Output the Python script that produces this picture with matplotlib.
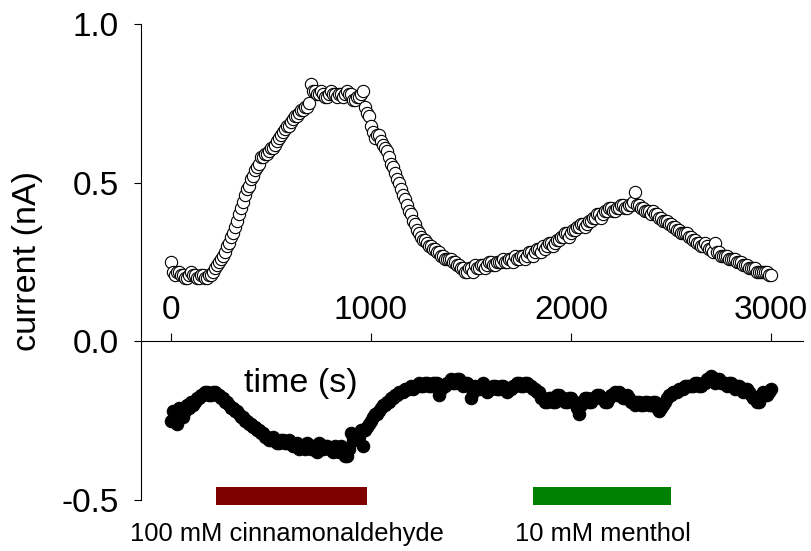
import matplotlib
matplotlib.use("Agg")
import matplotlib.pyplot as plt

plt.rcParams["font.family"] = ["Liberation Sans", "DejaVu Sans"]
plt.rcParams["axes.unicode_minus"] = False

# sampling times (s)
TIME_S = [
    0, 10, 20, 30, 40, 50, 60, 70, 80, 90, 100, 110, 120, 130, 140, 150, 160, 170, 180, 190,
    200, 210, 220, 230, 240, 250, 260, 270, 280, 290, 300, 310, 320, 330, 340, 350, 360, 370, 380, 390,
    400, 410, 420, 430, 440, 450, 460, 470, 480, 490, 500, 510, 520, 530, 540, 550, 560, 570, 580, 590,
    600, 610, 620, 630, 640, 650, 660, 670, 680, 690, 700, 710, 720, 730, 740, 750, 760, 770, 780, 790,
    800, 810, 820, 830, 840, 850, 860, 870, 880, 890, 900, 910, 920, 930, 940, 950, 960, 970, 980, 990,
    1000, 1010, 1020, 1030, 1040, 1050, 1060, 1070, 1080, 1090, 1100, 1110, 1120, 1130, 1140, 1150, 1160, 1170, 1180, 1190,
    1200, 1210, 1220, 1230, 1240, 1250, 1260, 1270, 1280, 1290, 1300, 1310, 1320, 1330, 1340, 1350, 1360, 1370, 1380, 1390,
    1400, 1410, 1420, 1430, 1440, 1450, 1460, 1470, 1480, 1490, 1500, 1510, 1520, 1530, 1540, 1550, 1560, 1570, 1580, 1590,
    1600, 1610, 1620, 1630, 1640, 1650, 1660, 1670, 1680, 1690, 1700, 1710, 1720, 1730, 1740, 1750, 1760, 1770, 1780, 1790,
    1800, 1810, 1820, 1830, 1840, 1850, 1860, 1870, 1880, 1890, 1900, 1910, 1920, 1930, 1940, 1950, 1960, 1970, 1980, 1990,
    2000, 2010, 2020, 2030, 2040, 2050, 2060, 2070, 2080, 2090, 2100, 2110, 2120, 2130, 2140, 2150, 2160, 2170, 2180, 2190,
    2200, 2210, 2220, 2230, 2240, 2250, 2260, 2270, 2280, 2290, 2300, 2310, 2320, 2330, 2340, 2350, 2360, 2370, 2380, 2390,
    2400, 2410, 2420, 2430, 2440, 2450, 2460, 2470, 2480, 2490, 2500, 2510, 2520, 2530, 2540, 2550, 2560, 2570, 2580, 2590,
    2600, 2610, 2620, 2630, 2640, 2650, 2660, 2670, 2680, 2690, 2700, 2710, 2720, 2730, 2740, 2750, 2760, 2770, 2780, 2790,
    2800, 2810, 2820, 2830, 2840, 2850, 2860, 2870, 2880, 2890, 2900, 2910, 2920, 2930, 2940, 2950, 2960, 2970, 2980, 2990,
    3000,
]

# outward current (nA), open circles
OUTWARD = [
    0.25, 0.22, 0.21, 0.22, 0.22, 0.21, 0.21, 0.20, 0.20, 0.21, 0.22, 0.21, 0.21, 0.20, 0.20, 0.21, 0.21, 0.20, 0.20, 0.21,
    0.21, 0.22, 0.23, 0.24, 0.25, 0.26, 0.27, 0.28, 0.30, 0.31, 0.33, 0.34, 0.36, 0.38, 0.40, 0.42, 0.44, 0.46, 0.48, 0.49,
    0.51, 0.52, 0.54, 0.55, 0.56, 0.58, 0.58, 0.59, 0.59, 0.60, 0.61, 0.61, 0.62, 0.63, 0.64, 0.65, 0.66, 0.67, 0.68, 0.68,
    0.69, 0.70, 0.71, 0.71, 0.72, 0.73, 0.73, 0.74, 0.74, 0.75, 0.81, 0.79, 0.79, 0.78, 0.78, 0.79, 0.78, 0.77, 0.77, 0.78,
    0.79, 0.78, 0.78, 0.77, 0.78, 0.78, 0.77, 0.78, 0.79, 0.78, 0.78, 0.76, 0.76, 0.77, 0.77, 0.78, 0.79, 0.74, 0.72, 0.71,
    0.68, 0.66, 0.64, 0.65, 0.65, 0.63, 0.62, 0.61, 0.60, 0.58, 0.56, 0.55, 0.53, 0.51, 0.50, 0.48, 0.46, 0.45, 0.43, 0.41,
    0.40, 0.38, 0.37, 0.35, 0.34, 0.33, 0.32, 0.32, 0.31, 0.30, 0.30, 0.29, 0.29, 0.28, 0.28, 0.27, 0.27, 0.26, 0.26, 0.26,
    0.26, 0.25, 0.25, 0.24, 0.24, 0.23, 0.23, 0.22, 0.22, 0.23, 0.23, 0.22, 0.24, 0.23, 0.23, 0.24, 0.24, 0.23, 0.24, 0.25,
    0.25, 0.24, 0.24, 0.25, 0.25, 0.25, 0.26, 0.25, 0.25, 0.26, 0.26, 0.25, 0.27, 0.26, 0.26, 0.27, 0.27, 0.26, 0.27, 0.28,
    0.28, 0.27, 0.28, 0.29, 0.29, 0.28, 0.30, 0.29, 0.30, 0.31, 0.31, 0.30, 0.31, 0.32, 0.32, 0.33, 0.33, 0.34, 0.34, 0.33,
    0.34, 0.35, 0.35, 0.36, 0.36, 0.37, 0.37, 0.36, 0.37, 0.38, 0.38, 0.39, 0.39, 0.40, 0.40, 0.39, 0.40, 0.41, 0.41, 0.42,
    0.42, 0.41, 0.41, 0.42, 0.42, 0.43, 0.43, 0.42, 0.42, 0.43, 0.43, 0.44, 0.47, 0.43, 0.43, 0.42, 0.42, 0.41, 0.41, 0.41,
    0.40, 0.41, 0.40, 0.40, 0.39, 0.39, 0.38, 0.38, 0.38, 0.37, 0.37, 0.36, 0.36, 0.35, 0.35, 0.34, 0.34, 0.34, 0.34, 0.33,
    0.33, 0.32, 0.32, 0.31, 0.31, 0.30, 0.30, 0.31, 0.30, 0.29, 0.29, 0.28, 0.31, 0.28, 0.28, 0.27, 0.27, 0.27, 0.27, 0.26,
    0.26, 0.26, 0.26, 0.25, 0.25, 0.25, 0.24, 0.24, 0.24, 0.23, 0.23, 0.23, 0.23, 0.22, 0.22, 0.22, 0.22, 0.22, 0.22, 0.21,
    0.21,
]

# inward current (nA), filled circles
INWARD = [
    -0.25, -0.22, -0.24, -0.26, -0.21, -0.23, -0.24, -0.22, -0.20, -0.21, -0.19, -0.20, -0.19, -0.18, -0.18, -0.17, -0.17, -0.16, -0.16, -0.17,
    -0.17, -0.16, -0.16, -0.17, -0.17, -0.18, -0.18, -0.19, -0.19, -0.20, -0.21, -0.21, -0.22, -0.22, -0.23, -0.24, -0.24, -0.25, -0.25, -0.26,
    -0.26, -0.27, -0.27, -0.28, -0.28, -0.29, -0.29, -0.30, -0.30, -0.31, -0.31, -0.30, -0.31, -0.32, -0.32, -0.31, -0.31, -0.32, -0.32, -0.31,
    -0.32, -0.33, -0.33, -0.32, -0.34, -0.33, -0.33, -0.34, -0.32, -0.33, -0.34, -0.33, -0.33, -0.35, -0.32, -0.34, -0.34, -0.33, -0.33, -0.34,
    -0.34, -0.35, -0.33, -0.34, -0.35, -0.33, -0.34, -0.36, -0.36, -0.34, -0.29, -0.31, -0.31, -0.30, -0.30, -0.28, -0.33, -0.28, -0.27, -0.26,
    -0.25, -0.24, -0.23, -0.23, -0.22, -0.21, -0.20, -0.20, -0.19, -0.19, -0.18, -0.18, -0.17, -0.17, -0.16, -0.16, -0.16, -0.15, -0.15, -0.15,
    -0.14, -0.15, -0.14, -0.14, -0.13, -0.14, -0.14, -0.13, -0.13, -0.14, -0.14, -0.13, -0.13, -0.13, -0.17, -0.15, -0.14, -0.14, -0.13, -0.13,
    -0.12, -0.13, -0.13, -0.12, -0.12, -0.13, -0.14, -0.13, -0.13, -0.14, -0.18, -0.16, -0.14, -0.15, -0.15, -0.14, -0.13, -0.14, -0.16, -0.15,
    -0.15, -0.14, -0.14, -0.15, -0.15, -0.14, -0.14, -0.15, -0.16, -0.15, -0.15, -0.14, -0.14, -0.13, -0.13, -0.14, -0.14, -0.13, -0.13, -0.14,
    -0.14, -0.15, -0.15, -0.16, -0.16, -0.18, -0.18, -0.19, -0.19, -0.18, -0.18, -0.19, -0.19, -0.17, -0.17, -0.18, -0.18, -0.19, -0.19, -0.18,
    -0.18, -0.19, -0.19, -0.21, -0.23, -0.20, -0.19, -0.18, -0.18, -0.19, -0.19, -0.18, -0.18, -0.17, -0.17, -0.18, -0.18, -0.19, -0.19, -0.18,
    -0.17, -0.17, -0.16, -0.17, -0.16, -0.17, -0.18, -0.18, -0.17, -0.18, -0.19, -0.19, -0.20, -0.19, -0.19, -0.20, -0.20, -0.19, -0.19, -0.20,
    -0.20, -0.19, -0.19, -0.21, -0.22, -0.21, -0.20, -0.19, -0.18, -0.17, -0.17, -0.16, -0.16, -0.16, -0.15, -0.15, -0.15, -0.14, -0.14, -0.14,
    -0.14, -0.14, -0.13, -0.13, -0.14, -0.14, -0.13, -0.13, -0.12, -0.12, -0.11, -0.12, -0.13, -0.12, -0.12, -0.13, -0.13, -0.13, -0.14, -0.13,
    -0.13, -0.14, -0.15, -0.14, -0.14, -0.15, -0.16, -0.15, -0.15, -0.16, -0.17, -0.18, -0.18, -0.19, -0.19, -0.17, -0.16, -0.17, -0.17, -0.16,
    -0.15,
]

X_TICKS = [0, 1000, 2000, 3000]
Y_TICKS = [-0.5, 0.0, 0.5, 1.0]

# drug applications: (label, start s, end s, colour)
DRUG_LABELS = ["100 mM cinnamonaldehyde", "10 mM menthol"]
DRUG_START = [225, 1810]
DRUG_END = [980, 2500]
DRUG_COLORS = ["#800000", "#008000"]
DRUG_LABEL_X = [578, 2158]

fig = plt.figure(figsize=(8.11, 5.51), dpi=100)
ax = fig.add_axes([141 / 811, 1 - 500 / 551, 662 / 811, 476 / 551])

ax.scatter(TIME_S, OUTWARD, s=78, facecolor="white", edgecolor="black",
           linewidth=0.8, zorder=3, clip_on=False)
ax.scatter(TIME_S, INWARD, s=80, facecolor="black", edgecolor="black",
           linewidth=0.8, zorder=3, clip_on=False)

for lab, x0, x1, c, lx in zip(DRUG_LABELS, DRUG_START, DRUG_END, DRUG_COLORS, DRUG_LABEL_X):
    ax.bar((x0 + x1) / 2, 0.057, width=x1 - x0, bottom=-0.517, color=c,
           clip_on=False, zorder=2)
    ax.text(lx, -0.607, lab, ha="center", va="center", fontsize=18.4,
            clip_on=False)

ax.set_xlim(-150, 3160)
ax.set_ylim(-0.5, 1.0)

# x axis runs through zero, labels above it
ax.spines["right"].set_visible(False)
ax.spines["bottom"].set_visible(False)
ax.spines["top"].set_position(("data", 0))
for s in ("left", "top"):
    ax.spines[s].set_linewidth(0.8)
ax.xaxis.set_ticks_position("top")
ax.set_xticks(X_TICKS)
ax.set_xticklabels([str(v) for v in X_TICKS])
ax.tick_params(axis="x", direction="out", length=6, width=0.8, pad=5,
               labelsize=24)
ax.set_yticks(Y_TICKS)
ax.set_yticklabels([f"{v:.1f}" for v in Y_TICKS])
ax.tick_params(axis="y", direction="out", length=5, width=0.8, pad=11,
               labelsize=24)

ax.text(650, -0.132, "time (s)", ha="center", va="center", fontsize=24.5)
fig.text(28 / 811, 1 - 261 / 551, "current (nA)", rotation=90, ha="center",
         va="center", fontsize=24.5)

fig.savefig("out.png", dpi=100)
